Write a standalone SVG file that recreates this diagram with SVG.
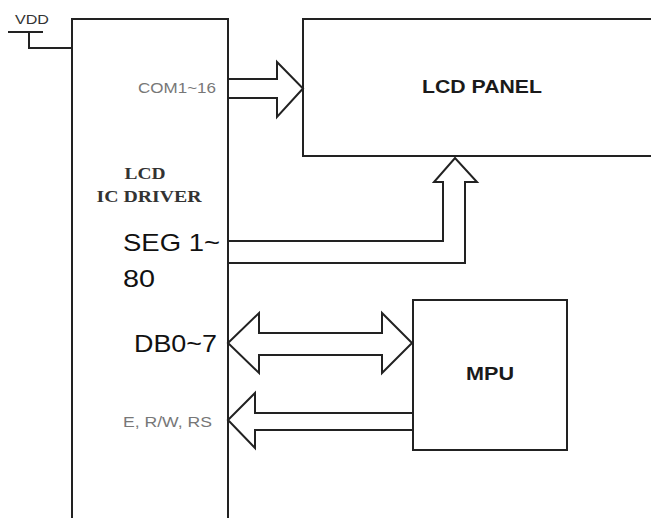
<svg xmlns="http://www.w3.org/2000/svg" width="651" height="518" viewBox="0 0 651 518">
<style>
.ln{fill:none;stroke:#222;stroke-width:2;stroke-linejoin:miter}
.ar{fill:#fff;stroke:#222;stroke-width:2;stroke-linejoin:miter}
.box{fill:#fff;stroke:#222;stroke-width:2}
.sans{font-family:"Liberation Sans",Arial,sans-serif}
.bold{font-family:"Liberation Sans",Arial,sans-serif;font-weight:bold;fill:#1a1a1a}
.gray{font-family:"Liberation Sans",Arial,sans-serif;fill:#777}
.big{font-family:"Liberation Sans",Arial,sans-serif;fill:#111}
.serif{font-family:"Liberation Serif","Times New Roman",serif;font-weight:bold;fill:#333}
</style>
<rect width="651" height="518" fill="#fff"/>
<g id="connectors">
<path class="ar" d="M228,79 H277 V62 L303,88.5 L277,117 V98 H228"/>
<path class="ar" d="M228,241 H443 V182 H434 L455,158 L477,182 H465 V263 H228"/>
<path class="ar" d="M228,343 L259,313 V333 H382 V313 L412,343 L382,373 V355 H259 V373 Z"/>
<path class="ar" d="M413,413 H255 V393 L228,420 L255,448 V430 H413"/>
</g>
<g id="vdd">
<path class="ln" d="M8,32 H43 M29,32 V48 H72"/>
<text class="sans" x="15" y="24" font-size="13" fill="#333" textLength="34" lengthAdjust="spacingAndGlyphs">VDD</text>
</g>
<g id="driver">
<path class="ln" d="M72,520 V19 H228 V520"/>
<text class="serif" x="145" y="179" font-size="17" text-anchor="middle" textLength="41" lengthAdjust="spacingAndGlyphs">LCD</text>
<text class="serif" x="149" y="202" font-size="17" text-anchor="middle" textLength="105" lengthAdjust="spacingAndGlyphs">IC DRIVER</text>
<text class="gray" x="138" y="93" font-size="15" textLength="78" lengthAdjust="spacingAndGlyphs">COM1~16</text>
<text class="big" x="123" y="251" font-size="24" textLength="97" lengthAdjust="spacingAndGlyphs">SEG 1~</text>
<text class="big" x="123" y="287" font-size="24" textLength="32" lengthAdjust="spacingAndGlyphs">80</text>
<text class="big" x="134" y="352" font-size="24" textLength="83" lengthAdjust="spacingAndGlyphs">DB0~7</text>
<text class="gray" x="123" y="427" font-size="15" textLength="89" lengthAdjust="spacingAndGlyphs">E, R/W, RS</text>
</g>
<g id="lcd-panel">
<path class="ln" d="M655,19 H303 V156 H655"/>
<text class="bold" x="482" y="93" font-size="19" text-anchor="middle" textLength="120" lengthAdjust="spacingAndGlyphs">LCD PANEL</text>
</g>
<g id="mpu">
<rect class="ln" x="413" y="300" width="154" height="150"/>
<text class="bold" x="490" y="380" font-size="19" text-anchor="middle" textLength="48" lengthAdjust="spacingAndGlyphs">MPU</text>
</g>
</svg>
